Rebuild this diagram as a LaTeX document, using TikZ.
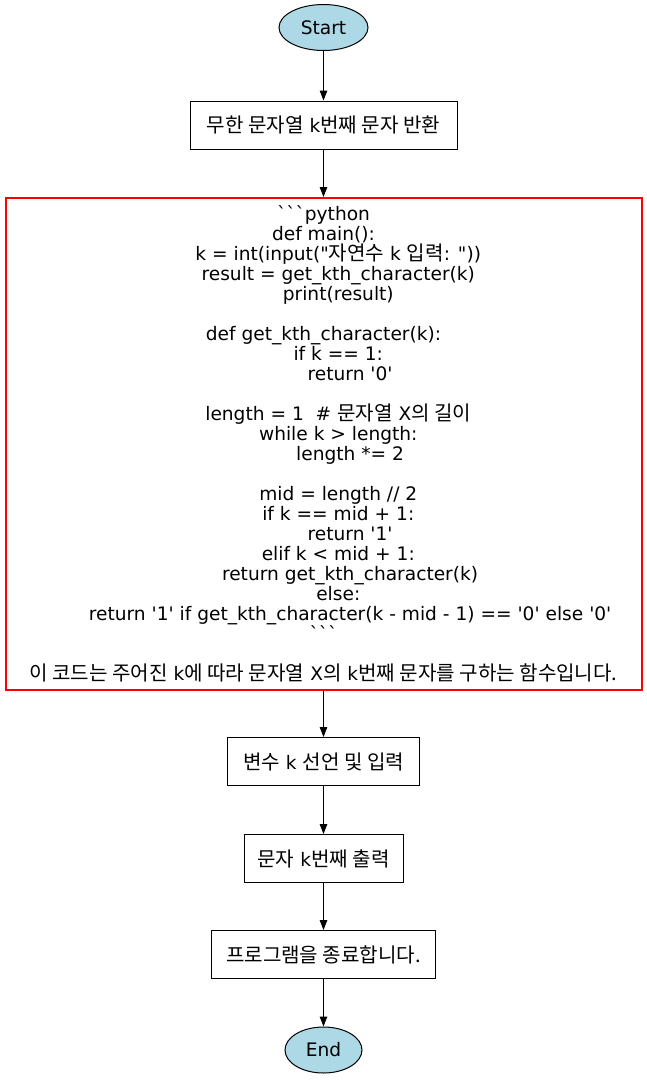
\documentclass[tikz,border=0pt]{standalone}
\usepackage{fontspec}
\setmainfont{DejaVu Sans}[Ligatures=TeXOff]
\newfontfamily\krfont{Noto Sans CJK KR}[Scale=1.08]
\newcommand\kr[1]{{\krfont #1}}
\newcommand\ind[1]{\hspace*{#1\fontdimen2\font}}
\usetikzlibrary{arrows.meta,shapes.geometric}
\definecolor{lightblue}{HTML}{ADD8E6}
\begin{document}
\begin{tikzpicture}[x=1pt,y=-1pt]
    \tikzstyle{term}= [ellipse,draw,fill=lightblue,line width=1pt,inner sep=0pt]
    \tikzstyle{stepbox}= [rectangle,draw,line width=1pt,inner sep=0pt,minimum height=48pt]
    \tikzstyle{sipka}= [line width=1pt,-{Triangle[length=10pt,width=7.5pt]}]
  \def\txt{\fontsize{18.6}{20}\selectfont}
  \def\mx{323.5}
  \useasboundingbox (0,0) rectangle (647,1080);

  \node[term,minimum width=89pt,minimum height=46pt,font=\txt] (start) at (\mx,27.5) {Start};
  \node[stepbox,minimum width=267pt,font=\txt] (task) at (\mx,125) {\kr{무한 문자열} k\kr{번째 문자 반환}};
  \node[rectangle,draw=red,line width=2pt,minimum width=636pt,minimum height=492pt,
        inner sep=0pt,align=center,font=\txt] (code) at (\mx,444) {%
    ```python\\
    def main():\\
    \ind4 k = int(input("\kr{자연수} k \kr{입력}: "))\\
    \ind4 result = get\_kth\_character(k)\\
    \ind4 print(result)\\
    \mbox{}\\
    def get\_kth\_character(k):\\
    \ind4 if k == 1:\\
    \ind8 return '0'\\
    \mbox{}\\
    \ind4 length = 1\ind2\# \kr{문자열} X\kr{의 길이}\\
    \ind4 while k > length:\\
    \ind8 length *= 2\\
    \mbox{}\\
    \ind4 mid = length // 2\\
    \ind4 if k == mid + 1:\\
    \ind8 return '1'\\
    \ind4 elif k < mid + 1:\\
    \ind8 return get\_kth\_character(k)\\
    \ind4 else:\\
    \ind8 return '1' if get\_kth\_character(k - mid - 1) == '0' else '0'\\
    ```\\
    \mbox{}\\
    \kr{이 코드는 주어진} k\kr{에 따라 문자열} X\kr{의} k\kr{번째 문자를 구하는 함수입니다.}};
  \node[stepbox,minimum width=192pt,font=\txt] (input) at (\mx,761.5) {\kr{변수} k \kr{선언 및 입력}};
  \node[stepbox,minimum width=159pt,font=\txt] (output) at (\mx,858.5) {\kr{문자} k\kr{번째 출력}};
  \node[stepbox,minimum width=224pt,font=\txt] (quit) at (\mx,954.5) {\kr{프로그램을 종료합니다.}};
  \node[term,minimum width=77pt,minimum height=46pt,font=\txt] (stop) at (\mx,1050) {End};

  \foreach \a/\b in {start/task,task/code,code/input,input/output,output/quit,quit/stop}
    \draw[sipka] (\a) -- (\b);

\end{tikzpicture}
\end{document}
